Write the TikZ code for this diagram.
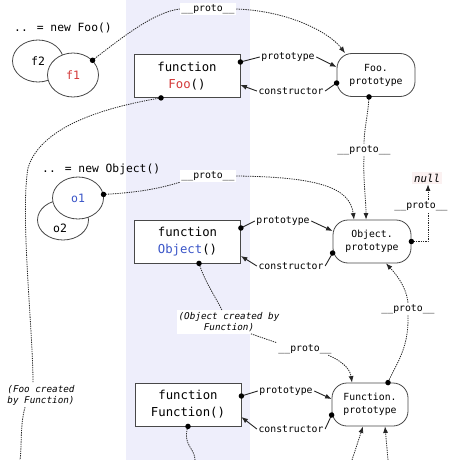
\documentclass[tikz,border=0pt]{standalone}
\usepackage{fontspec}
\setmainfont{DejaVu Sans Mono}
\usetikzlibrary{arrows.meta,shapes.geometric,calc}
\definecolor{band}{HTML}{EEEEFB}
\definecolor{edge}{HTML}{484848}
\definecolor{foored}{HTML}{D43A3A}
\definecolor{objblue}{HTML}{3A55C8}
\definecolor{nullbg}{HTML}{FBF1F1}
\begin{document}
\begin{tikzpicture}[x=1pt,y=-1pt,
  fnbox/.style={draw=edge,line width=0.8pt,fill=white,minimum width=106pt,minimum height=43pt,align=center,font=\fontsize{12.3}{17}\selectfont,inner sep=0pt},
  protobox/.style={draw=edge,line width=0.8pt,fill=white,rounded corners=15pt,minimum width=78pt,minimum height=43pt,align=center,font=\fontsize{9.8}{13}\selectfont,inner sep=0pt},
  objell/.style={draw=edge,line width=0.8pt,fill=white,ellipse,minimum width=51pt,minimum height=42pt,font=\fontsize{11.5}{13}\selectfont,inner sep=0pt},
  lbl/.style={fill=white,inner sep=1.5pt,font=\fontsize{9.8}{12}\selectfont},
  ilbl/.style={fill=white,inner sep=2pt,font=\fontsize{9.3}{11}\selectfont\itshape,align=center},
  hdr/.style={anchor=west,inner sep=0pt,font=\fontsize{11.3}{13}\selectfont},
  dotl/.style={draw=black!85,line width=0.8pt,dash pattern=on 1.3pt off 1pt},
  arr/.style={-{Latex[length=6.5pt,width=5pt]}},
  sol/.style={draw=black!85,line width=0.9pt},
  pin/.style={circle,fill=black,inner sep=0pt,minimum size=5.5pt},
]
\useasboundingbox (0,0) rectangle (460,460);
\fill[white] (0,0) rectangle (460,460);
\fill[band] (126,0) rectangle (250,460);

% ---------- Foo row ----------
\node[hdr] (newfoo) at (14,28) {.. = new Foo()};
\node[objell] (f2) at (38,61) {f2};
\node[objell,minimum height=44pt] (f1) at (73,75) {\textcolor{foored}{f1}};
\node[fnbox] (foo) at (187,76) {function\\\textcolor{foored}{Foo}()};
\node[protobox] (foop) at (376,75) {Foo.\\prototype};
\node[lbl] (proto1) at (208,9) {\_\_proto\_\_};
\node[lbl] (pt1) at (288,57) {prototype};
\node[lbl] (ct1) at (291,91) {constructor};
\node[lbl] (proto2) at (364,150) {\_\_proto\_\_};

% ---------- Object row ----------
\node[hdr] (newobj) at (42,169) {.. = new Object()};
\node[objell,minimum height=40pt] (o2) at (63,220) {};
\node[inner sep=0pt,font=\fontsize{11.5}{13}\selectfont] (o2t) at (60,228) {o2};
\node[objell] (o1) at (78,198) {\textcolor{objblue}{o1}};
\node[fnbox] (obj) at (187.5,241.5) {function\\\textcolor{objblue}{Object}()};
\node[protobox] (objp) at (372,241.5) {Object.\\prototype};
\node[lbl] (proto3) at (208,176) {\_\_proto\_\_};
\node[lbl] (pt2) at (283,221) {prototype};
\node[lbl] (ct2) at (291,266) {constructor};
\node[fill=nullbg,inner sep=2pt,font=\fontsize{10.8}{12}\selectfont\itshape] (null) at (427,178) {null};
\node[lbl] (proto4) at (421,206) {\_\_proto\_\_};
\node[ilbl] (objc) at (229,322) {(Object created by\\Function)};

% ---------- Function row ----------
\node[fnbox] (fn) at (188,404.5) {function\\Function()};
\node[protobox,minimum width=76pt] (fnp) at (370,404.5) {Function.\\prototype};
\node[lbl] (proto5) at (305,349) {\_\_proto\_\_};
\node[lbl] (proto6) at (408,309) {\_\_proto\_\_};
\node[lbl] (pt3) at (286,391) {prototype};
\node[lbl] (ct3) at (291,429) {constructor};
\node[ilbl] (fooc) at (41,395) {(Foo created\\by Function)};

% ---------- anchor points ----------
\coordinate (df1) at (f1.37);
\coordinate (dfoo) at ([xshift=-26pt]foo.south);
\coordinate (dfoopt) at ([yshift=14pt]foo.east);
\coordinate (tfooct) at ([yshift=-9pt]foo.east);
\coordinate (tfooppt) at ([yshift=8pt]foop.west);
\coordinate (dfoopct) at ([yshift=-8pt]foop.west);
\coordinate (tfooptop) at ([xshift=-31pt]foop.north);
\coordinate (dfoopbot) at ([xshift=-7pt]foop.south);

\coordinate (do1) at (o1.8);
\coordinate (dobjpt) at ([yshift=13.5pt]obj.east);
\coordinate (tobjct) at ([yshift=-14.5pt]obj.east);
\coordinate (tobjppt) at ([yshift=10.5pt]objp.west);
\coordinate (dobjpct) at ([yshift=-11.5pt]objp.west);
\coordinate (tobjptopA) at ([xshift=-18pt]objp.north);
\coordinate (tobjptopB) at ([xshift=-6pt]objp.north);
\coordinate (tobjpbot) at ([xshift=14pt]objp.south);
\coordinate (dobjbot) at ([xshift=11.5pt]obj.south);
\coordinate (ncorner) at (428,241.5);

\coordinate (dfnpt) at ([yshift=8.5pt]fn.east);
\coordinate (tfnct) at ([yshift=-12.5pt]fn.east);
\coordinate (tfnppt) at ([yshift=5.5pt]fnp.west);
\coordinate (dfnpct) at ([yshift=-10.5pt]fnp.west);
\coordinate (tfnptopA) at ([xshift=-18pt]fnp.north);
\coordinate (dfnptopB) at ([xshift=18pt]fnp.north);
\coordinate (tfnpbotA) at ([xshift=-7pt]fnp.south);
\coordinate (tfnpbotB) at ([xshift=15pt]fnp.south);
\coordinate (dfnbot) at (fn.south);

\coordinate (endA) at (20,460);
\coordinate (endB) at (195,460);
\coordinate (endC) at (352,460);
\coordinate (endD) at (388,460);

% ---------- dotted __proto__ links ----------
\draw[dotl] (df1) .. controls (125,35) and (155,12) .. (proto1.west);
\draw[dotl,arr] (proto1.east) .. controls (290,11) and (330,33) .. (tfooptop);
\draw[dotl] (dfoopbot) .. controls (368,115) and (364,130) .. (proto2.north);
\draw[dotl,arr] (proto2.south) .. controls (363,180) and (366,200) .. (tobjptopB);

\draw[dotl] (do1) .. controls (150,192) and (170,185) .. (proto3.south west);
\draw[dotl,arr] (proto3.east) .. controls (320,177) and (350,188) .. (tobjptopA);
\draw[dotl] (objp.east) -- (ncorner) -- (ncorner |- proto4.south);
\draw[dotl,arr] (ncorner |- proto4.north) -- (ncorner |- null.south);

\draw[dotl] (dobjbot) .. controls (205,282) and (215,296) .. ([xshift=-7pt]objc.north);
\draw[dotl] ([xshift=22pt]objc.south) -- (proto5.north west);
\draw[dotl,arr] ([xshift=-5pt]proto5.south east) .. controls (340,360) and (350,368) .. (tfnptopA);
\draw[dotl,arr] (proto6.north) .. controls (406,285) and (394,272) .. (tobjpbot);
\draw[dotl] (proto6.south) .. controls (409,350) and (395,365) .. (dfnptopB);

\draw[dotl] (dfoo) .. controls (100,108) and (40,128) .. (28,168)
  .. controls (20,215) and (33,330) .. ([xshift=-8pt]fooc.north);
\draw[dotl] ([xshift=-16pt]fooc.south) .. controls (20,425) and (22,445) .. (endA);
\draw[dotl] (dfnbot) .. controls (182,445) and (195,448) .. (endB);
\draw[dotl,arr] (endC) -- (tfnpbotA);
\draw[dotl,arr] (endD) -- (tfnpbotB);

% ---------- prototype / constructor ----------
\draw[sol] (dfoopt) -- (pt1.west);
\draw[sol,arr] (pt1.east) -- (tfooppt);
\draw[sol] (dfoopct) -- (ct1.east);
\draw[sol,arr] (ct1.west) -- (tfooct);

\draw[sol] (dobjpt) -- (pt2.west);
\draw[sol,arr] (pt2.east) -- (tobjppt);
\draw[sol] (dobjpct) -- (ct2.east);
\draw[sol,arr] (ct2.west) -- (tobjct);

\draw[sol] (dfnpt) -- (pt3.west);
\draw[sol,arr] (pt3.east) -- (tfnppt);
\draw[sol] (dfnpct) -- (ct3.east);
\draw[sol,arr] (ct3.west) -- (tfnct);

% ---------- dots ----------
\foreach \p in {df1,dfoo,dfoopt,dfoopct,dfoopbot,do1,dobjpt,dobjpct,objp.east,dobjbot,dfnpt,dfnpct,dfnptopB,dfnbot}
  \node[pin] at (\p) {};
\end{tikzpicture}
\end{document}
